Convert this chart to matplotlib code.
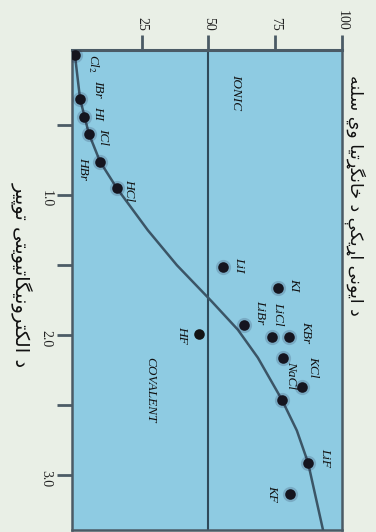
import matplotlib as mpl
mpl.use("Agg")
import matplotlib.pyplot as plt

# ── data ──────────────────────────────────────────────────────────────
# electronegativity difference (vertical in the picture) and percent ionic character
labels = ["Cl$_2$", "IBr", "HI", "ICl", "HBr", "HCl",
          "LiI", "KI", "LiBr", "LiCl", "KBr", "NaCl", "KCl", "", "LiF", "KF"]
en_diff = [0.0, 0.31, 0.44, 0.56, 0.76, 0.95,
           1.51, 1.66, 1.93, 2.01, 2.01, 2.16, 2.37, 2.46, 2.91, 3.13]
ionic_pct = [0.0, 1.9, 3.4, 5.2, 9.4, 15.7,
             55.4, 76.0, 63.3, 73.8, 80.1, 77.9, 85.0, 77.5, 87.3, 80.5]

hf_label = "HF"
hf_en = 1.99
hf_pct = 46.4

curve_en = [0.0, 0.31, 0.56, 0.76, 0.95, 1.25, 1.50, 1.76, 1.96,
            2.16, 2.46, 2.68, 2.91, 3.39]
curve_pct = [0.0, 1.9, 5.2, 9.4, 15.7, 27.3, 38.2, 51.3, 61.0,
             68.5, 77.5, 83.1, 87.3, 92.9]

pct_ticks = [25, 50, 75, 100]
en_major = [1.0, 2.0, 3.0]
en_minor = [0.5, 1.5, 2.5]

ylabel_txt = "د ایونی اړیکې د ځانګړتیا وي سلنه"
xlabel_txt = "د الکترونیګاتیویتی توپیر"

# label offsets in pixels from each dot (dx, dy)
offsets = [(18, -8), (18, 10), (14, 4), (14, -3), (-17, -7), (12, -2),
           (16, 2), (16, 3), (16, 13), (6, 23), (17, 5), (8, -17), (11, 20),
           (0, 0), (17, 5), (-18, 0)]

# ── simple arabic-script shaping (matplotlib has no complex text layout) ──
FORMS = {
    "\u0627": ("\uFE8D", "\uFE8E"),
    "\u062F": ("\uFEA9", "\uFEAA"),
    "\u0631": ("\uFEAD", "\uFEAE"),
    "\u0648": ("\uFEED", "\uFEEE"),
    "\u0693": ("\u0693", "\u0693"),
    "\u062A": ("\uFE95", "\uFE96", "\uFE97", "\uFE98"),
    "\u0646": ("\uFEE5", "\uFEE6", "\uFEE7", "\uFEE8"),
    "\u064A": ("\uFEF1", "\uFEF2", "\uFEF3", "\uFEF4"),
    "\u0633": ("\uFEB1", "\uFEB2", "\uFEB3", "\uFEB4"),
    "\u0644": ("\uFEDD", "\uFEDE", "\uFEDF", "\uFEE0"),
    "\u0647": ("\uFEE9", "\uFEEA", "\uFEEB", "\uFEEC"),
    "\u067E": ("\uFB56", "\uFB57", "\uFB58", "\uFB59"),
    "\u06A9": ("\uFB8E", "\uFB8F", "\uFB90", "\uFB91"),
    "\u06AB": ("\uFB92", "\uFB93", "\uFB94", "\uFB95"),   # drawn with gaf shapes
    "\u06CC": ("\uFBFC", "\uFBFD", "\uFBFE", "\uFBFF"),
    "\u06D0": ("\uFBE4", "\uFBE5", "\uFBE6", "\uFBE7"),
    "\u0681": ("\uFEA5", "\uFEA6", "\uFEA7", "\uFEA8"),   # drawn with khah shapes
}


def shape(text):
    out = []
    for i, ch in enumerate(text):
        if ch not in FORMS:
            out.append(ch)
            continue
        prev = text[i - 1] if i > 0 else ""
        nxt = text[i + 1] if i + 1 < len(text) else ""
        joins_prev = prev in FORMS and len(FORMS[prev]) == 4
        joins_next = len(FORMS[ch]) == 4 and nxt in FORMS
        f = FORMS[ch]
        if joins_prev and joins_next:
            out.append(f[3])
        elif joins_prev:
            out.append(f[1])
        elif joins_next:
            out.append(f[2])
        else:
            out.append(f[0])
    return "".join(out)[::-1]


plt.rcParams["mathtext.fontset"] = "stix"
serif = "Liberation Serif"

BG = "#e9efe6"
PANEL = "#8ecbe2"
DARK = "#4b5b66"

fig = plt.figure(figsize=(3.76, 5.32), dpi=100, facecolor=BG)
ax = fig.add_axes([0.1915, 0.0038, 0.718, 0.902], facecolor=PANEL)

ax.set_xlim(-1.1, 100)
ax.set_ylim(3.39, -0.036)

ax.axvline(50, color="#2f4a5a", lw=1.5, zorder=2)
ax.plot(curve_pct, curve_en, color="#3b5566", lw=1.8, zorder=3,
        solid_joinstyle="round")

ax.scatter(ionic_pct, en_diff, s=120, color="#1c1c40", alpha=0.18, lw=0, zorder=4)
ax.scatter(ionic_pct, en_diff, s=58, color="#15151f", lw=0, zorder=5)
ax.scatter([hf_pct], [hf_en], s=58, color="#141414", lw=0, zorder=5)

for lab, x, y, (dx, dy) in zip(labels, ionic_pct, en_diff, offsets):
    if not lab:
        continue
    ax.annotate(lab, (x, y), xytext=(dx, dy), textcoords="offset pixels",
                rotation=-90, ha="center", va="center", fontsize=9.5,
                family=serif, style="italic", color="#111111", zorder=6)
ax.annotate(hf_label, (hf_pct, hf_en), xytext=(-17, -1), textcoords="offset pixels",
            rotation=-90, ha="center", va="center", fontsize=9.5,
            family=serif, style="italic", color="#111111", zorder=6)

ax.text(60.3, 0.26, "IONIC", rotation=-90, ha="center", va="center",
        fontsize=9.5, family=serif, style="italic", color="#111111")
ax.text(28.1, 2.39, "COVALENT", rotation=-90, ha="center", va="center",
        fontsize=9.5, family=serif, style="italic", color="#111111")

# ticks: percent along the top, electronegativity difference on the left
ax.xaxis.tick_top()
ax.set_xticks(pct_ticks)
ax.set_xticklabels([str(t) for t in pct_ticks])
ax.set_yticks(en_major)
ax.set_yticks(en_minor, minor=True)
ax.set_yticklabels([f"{t:.1f}" for t in en_major])
ax.tick_params(axis="both", which="both", direction="out", length=11, width=2,
               color=DARK, labelsize=10, labelcolor="#222222")
ax.tick_params(axis="x", labelrotation=-90, pad=3)
ax.tick_params(axis="y", labelrotation=-90, pad=3)
for t in ax.get_xticklabels() + ax.get_yticklabels():
    t.set_family(serif)

for side, sp in ax.spines.items():
    sp.set_color(DARK)
    sp.set_linewidth(2.2 if side == "top" else 1.8)

fig.text(0.944, 0.633, shape(ylabel_txt), rotation=-90, ha="center", va="center",
         fontsize=12.5, color="#111111")
fig.text(0.058, 0.483, shape(xlabel_txt), rotation=-90, ha="center", va="center",
         fontsize=14, color="#111111")

fig.savefig("out.png", dpi=100, facecolor=BG)
